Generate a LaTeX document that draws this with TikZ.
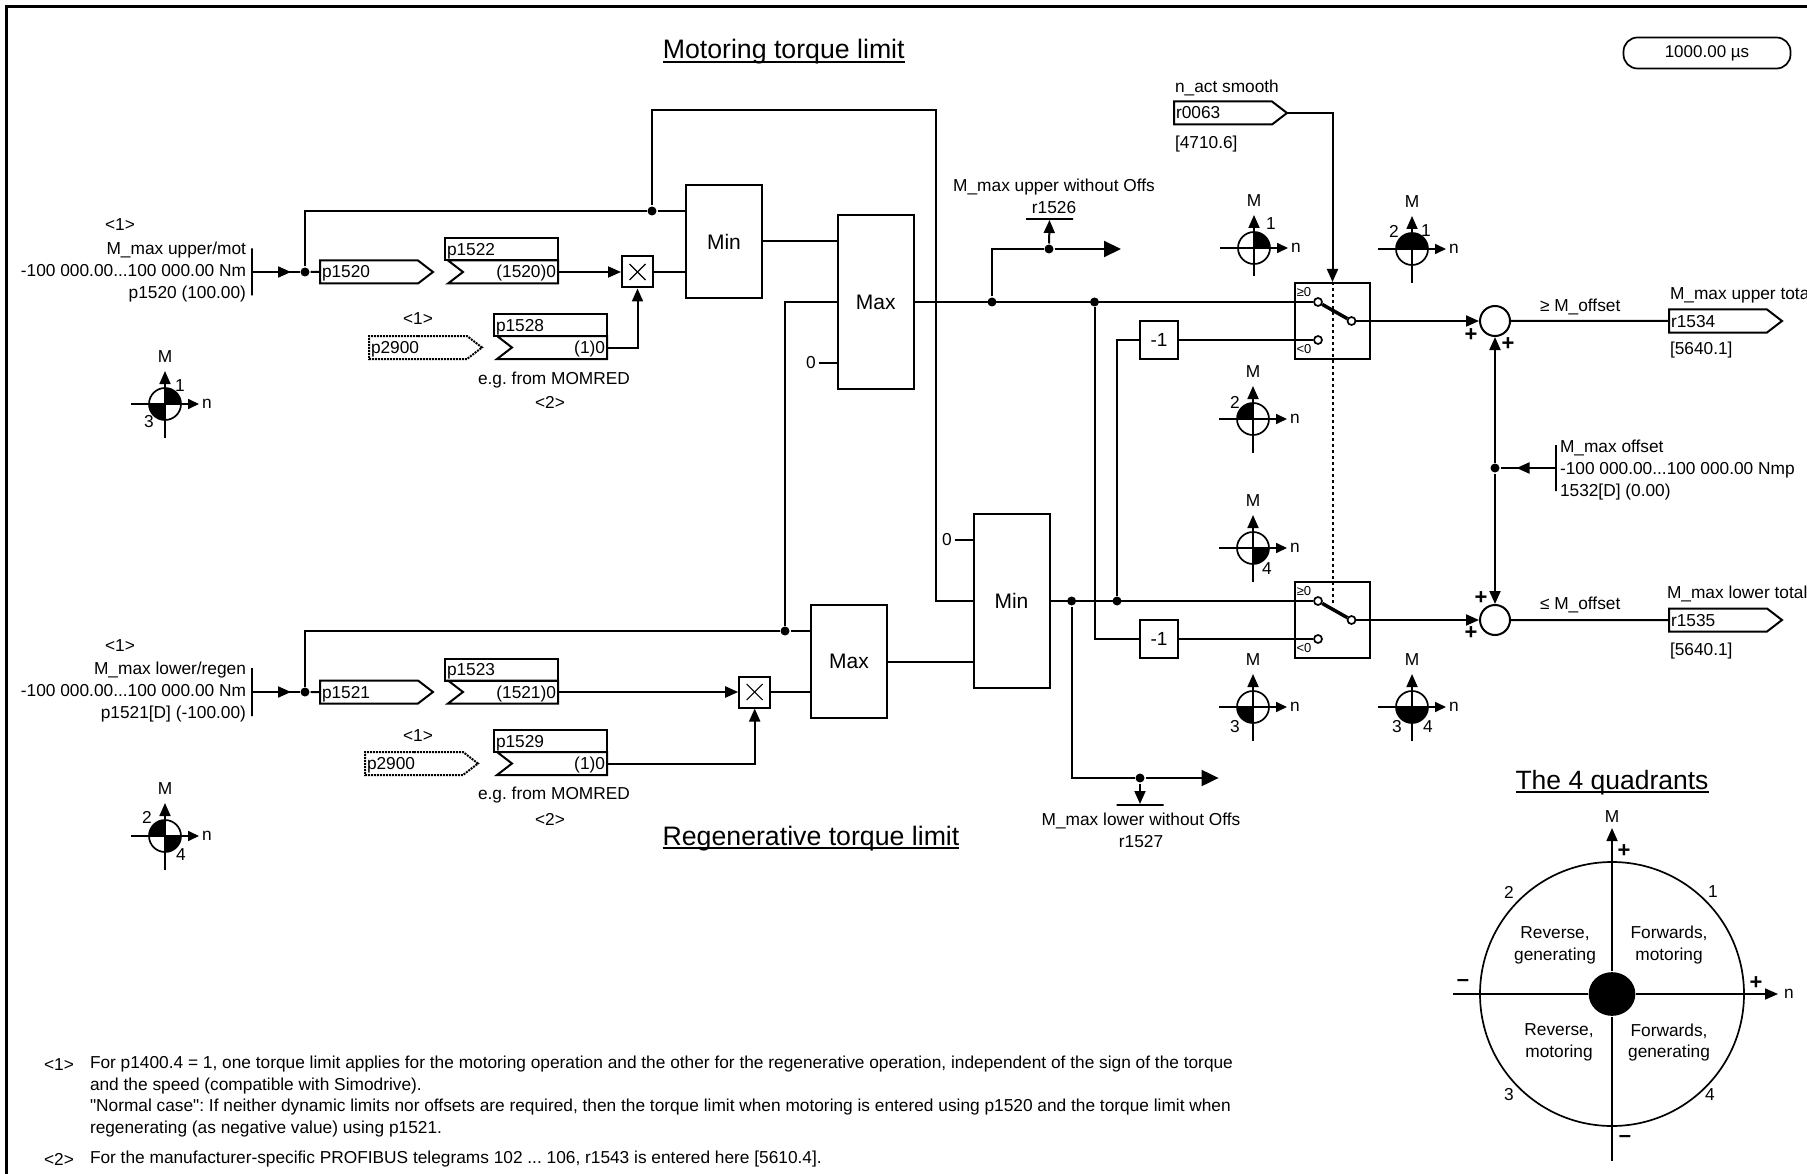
\documentclass[tikz,border=0pt]{standalone}
\usepackage{fontspec}
\setmainfont[Ligatures=TeXOff]{Liberation Sans}
\usepackage{tikz}
\usetikzlibrary{arrows.meta,positioning,shapes.symbols,shapes.geometric}

\frenchspacing
\newcommand{\mmax}{M\_max}
\newcommand{\rng}{-100 000.00...100 000.00}
\newcommand{\ulined}[1]{\setbox0=\hbox{#1}\rlap{\rule[-4.2pt]{\wd0}{1.8pt}}\box0}
\newcommand{\qicon}[5]{%
  \begin{scope}[shift={#2}]
    \foreach \q in {#3}{
      \fill ({-90*(\q-1)}:16) arc[start angle={-90*(\q-1)},end angle={-90*\q},radius=16] -- (0,0) -- cycle;
    }
    \draw[thinline] (0,0) circle[radius=16];
    \draw[thinline,-{Triangle[length=11pt,width=10pt]}] (-34,0) -- (34,0);
    \draw[thinline,-{Triangle[length=13pt,width=11pt]}] (0,#4) -- (0,-33);
    \node[lbl] (#1M) at (0,-47) {M};
    \node[lbl] (#1n) at (42,0) {n};
    \foreach \t/\dx/\dy in {#5}{
      \node[lbl] (#1q\t) at (\dx,\dy) {\t};
    }
  \end{scope}}

\begin{document}
\begin{tikzpicture}[
  x=1pt,y=-1pt,
  every path/.style={line width=2pt},
  thinline/.style={line width=1.7pt},
  lbl/.style={inner sep=0pt,font=\fontsize{17.3}{21.7}\selectfont},
  lblw/.style={lbl,anchor=west},
  lble/.style={lbl,anchor=east,align=right},
  title/.style={inner sep=0pt,anchor=base,font=\fontsize{26.7}{32}\selectfont},
  block/.style={draw,inner sep=0pt,font=\fontsize{21}{25}\selectfont},
  minmax/.style={block,minimum width=76pt},
  gain/.style={block,font=\fontsize{19}{23}\selectfont,minimum width=38pt,minimum height=38pt},
  mult/.style={draw,inner sep=0pt,minimum width=31pt,minimum height=31pt,path picture={
    \draw[line width=1.1pt] ([shift={(-8,-8)}]path picture bounding box.center) -- ([shift={(8,8)}]path picture bounding box.center);
    \draw[line width=1.1pt] ([shift={(-8,8)}]path picture bounding box.center) -- ([shift={(8,-8)}]path picture bounding box.center);}},
  textrow/.style={text height=14pt,text depth=2pt,inner xsep=2pt,inner ysep=0pt,outer sep=0pt,font=\fontsize{17.3}{21.7}\selectfont},
  sigbox/.style={draw,signal,signal to=east,signal pointer angle=75,anchor=west,minimum height=23pt,
    text width=94pt,textrow,align=left},
  chevbox/.style={draw,signal,signal from=west,signal to=nowhere,signal pointer angle=75,anchor=east,minimum height=23pt,
    text width=91pt,textrow,align=right},
  parbox/.style={draw,rectangle,anchor=south east,minimum width=113pt,minimum height=22pt,
    text width=109pt,textrow,align=left},
  sumnode/.style={draw,circle,fill=white,minimum size=30pt,inner sep=0pt},
  dot/.style={circle,fill=black,minimum size=9pt,inner sep=0pt},
  contact/.style={circle,draw,fill=white,minimum size=8pt,inner sep=0pt,thinline},
  switchbox/.style={draw,inner sep=0pt,minimum width=75pt,minimum height=76pt},
  barv/.style={draw,inner sep=0pt,minimum width=0pt},
  barh/.style={draw,inner sep=0pt,minimum height=0pt,minimum width=47pt},
  arrow/.style={-{Triangle[length=13pt,width=11pt]}},
  bigarrow/.style={-{Triangle[length=17pt,width=16pt]}},
  sign/.style={inner sep=0pt,font=\bfseries\fontsize{22}{22}\selectfont}
]
\useasboundingbox (0,0) rectangle (1807,1174);
\draw[line width=3.5pt] (6.5,1174) -- (6.5,6.5) -- (1807,6.5);

\node[title] (titlemot) at (783.7,59) {\ulined{Motoring torque limit}};
\node[title] (titlereg) at (811,845) {\ulined{Regenerative torque limit}};
\node[draw,rounded corners=14pt,minimum width=167pt,minimum height=31pt,inner sep=0pt,font=\fontsize{17}{21}\selectfont,thinline] (cycle) at (1707,53) {1000.00 µs};

\node[lbl] (note1a) at (120,225) {<1>};
\node[lble] (inupper) at (247,272) {\mmax{} upper/mot\\\rng{} Nm\\p1520 (100.00)};
\node[barv,minimum height=47pt] (barupper) at (252,272) {};
\node[dot] (j1) at (305,272) {};
\coordinate (tip1) at (291,272);
\node[sigbox] (p1520) at (320,272) {p1520};
\node[chevbox] (p1522v) at (558,272) {(1520)0};
\node[parbox] (p1522) at (p1522v.north east) {p1522};
\node[mult] (mul1) at (637.5,272) {};
\node[lbl] (note1b) at (418,319) {<1>};
\node[sigbox,densely dotted] (p2900a) at (369,347.5) {p2900};
\node[chevbox] (p1528v) at (607,347.5) {(1)0};
\node[parbox] (p1528) at (p1528v.north east) {p1528};
\node[lbl] (egup) at (554,380) {e.g. from MOMRED};
\node[lbl] (note2a) at (550,402) {<2>};

\node[minmax,minimum height=113pt] (min1) at (724,241.5) {Min};
\node[minmax,minimum height=174pt] (max1) at (875.7,302) {Max};
\node[dot] (j2) at (652,211) {};
\node[lbl] (zero1) at (811,363) {0};
\coordinate (zero1r) at (818.5,363);

\node[minmax,minimum height=113pt] (max2) at (849,661.5) {Max};
\node[minmax,minimum height=174pt] (min2) at (1011.5,601) {Min};
\node[lbl] (zero2) at (947,540) {0};
\coordinate (zero2r) at (954.5,540);
\node[dot] (j3) at (785,631) {};

\node[lbl] (note1c) at (120,646) {<1>};
\node[lble] (inlower) at (247,692) {\mmax{} lower/regen\\\rng{} Nm\\p1521[D] (-100.00)};
\node[barv,minimum height=48pt] (barlower) at (252,692) {};
\node[dot] (j4) at (305,692) {};
\coordinate (tip2) at (291,692);
\node[sigbox] (p1521) at (320,692) {p1521};
\node[chevbox] (p1523v) at (558,692) {(1521)0};
\node[parbox] (p1523) at (p1523v.north east) {p1523};
\node[mult] (mul2) at (754.7,692) {};
\node[lbl] (note1d) at (418,736) {<1>};
\node[sigbox,densely dotted] (p2900b) at (365,763.5) {p2900};
\node[chevbox] (p1529v) at (607,763.5) {(1)0};
\node[parbox] (p1529) at (p1529v.north east) {p1529};
\node[lbl] (egdown) at (554,795.5) {e.g. from MOMRED};
\node[lbl] (note2b) at (550,819) {<2>};

\node[dot] (j5) at (992,302) {};
\node[dot] (j6) at (1094.5,302) {};
\node[dot] (j7) at (1049,249) {};
\coordinate (out1) at (1121,249);
\node[barh] (bar1526) at (1049.5,219) {};
\node[lbl,align=center] (r1526) at (1054,196) {\mmax{} upper without Offs\\r1526};

\node[dot] (j8) at (1071.6,601) {};
\node[dot] (j9) at (1117,601) {};
\node[dot] (j10) at (1140,778) {};
\coordinate (out2) at (1218.6,778);
\node[barh] (bar1527) at (1140,805) {};
\node[lbl,align=center] (r1527) at (1141,830.5) {\mmax{} lower without Offs\\r1527};

\node[gain] (neg1) at (1159,340) {-1};
\node[gain] (neg2) at (1159,639) {-1};

\node[lblw] (nactname) at (1174,88) {n\_act smooth};
\node[sigbox] (r0063) at (1174,113) {r0063};
\node[lblw] (nactref) at (1174,144) {[4710.6]};

\node[switchbox] (sw1) at (1332.5,321) {};
\node[switchbox] (sw2) at (1332.5,620) {};
\node[contact] (c1a) at (1318,302) {};
\node[contact] (c1b) at (1318,340) {};
\node[contact] (c1p) at (1351.5,321) {};
\node[contact] (c2a) at (1318,601) {};
\node[contact] (c2b) at (1318,639) {};
\node[contact] (c2p) at (1351.5,620) {};
\node[inner sep=0pt,font=\fontsize{13}{13}\selectfont] (ge1) at (1304,292) {≥0};
\node[inner sep=0pt,font=\fontsize{13}{13}\selectfont] (lt1) at (1304,349) {<0};
\node[inner sep=0pt,font=\fontsize{13}{13}\selectfont] (ge2) at (1304,591) {≥0};
\node[inner sep=0pt,font=\fontsize{13}{13}\selectfont] (lt2) at (1304,648) {<0};
\coordinate (armend) at (1332.5,603);

\node[sumnode] (sum1) at (1495,321) {};
\node[sumnode] (sum2) at (1495,620) {};
\node[sign] (plus1) at (1471,335) {+};
\node[sign] (plus2) at (1508,344) {+};
\node[sign] (plus3) at (1481,598) {+};
\node[sign] (plus4) at (1471,633) {+};
\node[dot] (j11) at (1495,468) {};
\node[barv,minimum height=46pt] (baroffs) at (1555.5,468) {};
\coordinate (tip3) at (1516.5,468);
\node[lblw,align=left] (offs) at (1559,470) {\mmax{} offset\\\rng{} Nmp\\1532[D] (0.00)};

\node[lblw] (geoff) at (1539,307) {≥ M\_offset};
\node[lblw] (leoff) at (1539,605) {≤ M\_offset};
\node[lblw] (r1534name) at (1669,295) {\mmax{} upper tota};
\node[sigbox] (r1534) at (1669,321) {r1534};
\node[lblw] (r1534ref) at (1669,350) {[5640.1]};
\node[lblw] (r1535name) at (1666,594) {\mmax{} lower total};
\node[sigbox] (r1535) at (1669,620) {r1535};
\node[lblw] (r1535ref) at (1669,651) {[5640.1]};

\draw (barupper) -- (j1);
\draw[arrow] (barupper) -- (tip1);
\draw (j1) -- (p1520);
\draw[arrow] (p1522v.east) -- (mul1);
\draw (mul1) -- (mul1 -| min1.west);
\draw[arrow] (p1528v.east) -| (mul1);
\draw (j1) |- (j2) -- (j2 -| min1.west);
\draw (j2) |- (936,110) |- (min2.west);
\draw (min1) -- (min1 -| max1.west);
\draw (zero1r) -- (zero1r -| max1.west);
\draw (j3) |- (max1.west);
\draw (barlower) -- (j4);
\draw[arrow] (barlower) -- (tip2);
\draw (j4) -- (p1521);
\draw[arrow] (p1523v.east) -- (mul2);
\draw (mul2) -- (mul2 -| max2.west);
\draw[arrow] (p1529v.east) -| (mul2);
\draw (j4) |- (j3) -- (j3 -| max2.west);
\draw (max2) -- (max2 -| min2.west);
\draw (zero2r) -- (zero2r -| min2.west);
\draw (max1) -- (c1a);
\draw (j5) |- (j7);
\draw[arrow] (j7) -- (bar1526);
\draw[bigarrow] (j7) -- (out1);
\draw (min2) -- (c2a);
\draw (j8) |- (j10);
\draw[arrow] (j10) -- (bar1527);
\draw[bigarrow] (j10) -- (out2);
\draw (j6) |- (neg2);
\draw (neg2) -- (c2b);
\draw (j9) |- (neg1);
\draw (neg1) -- (c1b);
\draw[arrow] (r0063.east) -| (sw1.north);
\draw[line width=2pt,dash pattern=on 3pt off 3pt] (sw1.north) -- (armend);
\draw[line width=3.5pt] (c1a) -- (c1p);
\draw[line width=3.5pt] (c2a) -- (c2p);
\draw[arrow] (c1p) -- (sum1);
\draw[arrow] (c2p) -- (sum2);
\draw (sum1) -- (r1534);
\draw (sum2) -- (r1535);
\draw[arrow] (j11) -- (sum1);
\draw[arrow] (j11) -- (sum2);
\draw (baroffs) -- (j11);
\draw[arrow] (baroffs) -- (tip3);

\qicon{icona}{(165,404)}{1,3}{34}{1/15/-18,3/-16/18}
\qicon{iconb}{(165,836)}{2,4}{34}{2/-18/-19,4/16/19}
\qicon{iconc}{(1254,248)}{1}{28}{1/17/-24}
\qicon{icond}{(1412,249)}{1,2}{34}{2/-18/-18,1/14/-18}
\qicon{icone}{(1253,419)}{2}{34}{2/-18/-17}
\qicon{iconf}{(1253,548)}{4}{34}{4/14/21}
\qicon{icong}{(1253,707)}{3}{34}{3/-18/20}
\qicon{iconh}{(1412,707)}{3,4}{34}{3/-15/20,4/16/20}

\node[title,font=\fontsize{26.5}{31}\selectfont] (titlequad) at (1612,789) {\ulined{The 4 quadrants}};
\node[draw,circle,minimum size=264pt,inner sep=0pt,thinline] (disc) at (1612,994) {};
\node[ellipse,fill=black,minimum width=46.7pt,minimum height=43.7pt,inner sep=0pt] (hub) at (1612,994) {};
\coordinate (axtop) at (1612,828);
\coordinate (axbot) at (1612,1161);
\coordinate (axleft) at (1453,994);
\coordinate (axright) at (1778,994);
\draw[thinline,arrow] (hub) -- (axtop);
\draw[thinline] (hub) -- (axbot);
\draw[thinline] (hub) -- (axleft);
\draw[thinline,arrow] (hub) -- (axright);
\node[lbl] (quadM) at (1612,817) {M};
\node[lbl] (quadn) at (1789,994) {n};
\node[sign] (qplus1) at (1624,851) {+};
\node[sign] (qplus2) at (1756,983) {+};
\node[sign] (qminus1) at (1463,983) {–};
\node[sign] (qminus2) at (1625,1139) {–};
\node[lbl] (qnum1) at (1713,892) {1};
\node[lbl] (qnum2) at (1509,892) {2};
\node[lbl] (qnum3) at (1509,1095) {3};
\node[lbl] (qnum4) at (1710,1095) {4};
\node[lbl,align=center] (qtext2) at (1555,945) {Reverse,\\generating};
\node[lbl,align=center] (qtext1) at (1669,945) {Forwards,\\motoring};
\node[lbl,align=center] (qtext3) at (1559,1042.5) {Reverse,\\motoring};
\node[lbl,align=center] (qtext4) at (1669,1042.5) {Forwards,\\generating};

\node[lbl] (fn1) at (59,1064.5) {<1>};
\node[lbl,anchor=north west,align=left] (fn1text) at (89,1055) {For p1400.4 = 1, one torque limit applies for the motoring operation and the other for the regenerative operation, independent of the sign of the torque\\and the speed (compatible with Simodrive).\\"Normal case": If neither dynamic limits nor offsets are required, then the torque limit when motoring is entered using p1520 and the torque limit when\\regenerating (as negative value) using p1521.};
\node[lbl] (fn2) at (59,1159.5) {<2>};
\node[lblw] (fn2text) at (89,1159.5) {For the manufacturer-specific PROFIBUS telegrams 102 ... 106, r1543 is entered here [5610.4].};
\end{tikzpicture}
\end{document}
